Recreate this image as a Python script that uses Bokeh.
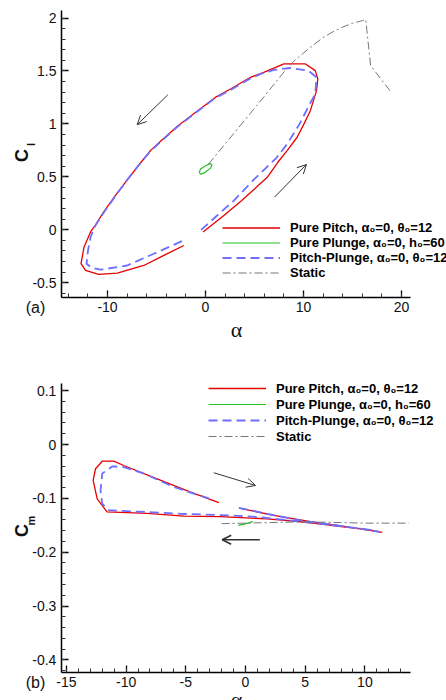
import math
from bokeh.plotting import figure
from bokeh.layouts import column
from bokeh.models import (Legend, LegendItem, Label, Arrow, OpenHead,
                          SingleIntervalTicker, Range1d, CustomJSTickFormatter)
from bokeh.embed import file_html
from bokeh.resources import INLINE

# ---------------- data: (a) lift coefficient ----------------
pitch_cl_alpha = [-0.25, 1.87, 3.7, 6.3, 7.4, 8.33, 9.35, 10.05, 10.7, 11.33, 11.46, 11.2, 10.2, 8.0,
                  5.95, 4.59, 2.55, 1.0, -1.0, -2.9, -4.3, -5.6, -6.9, -8.0, -9.3, -10.4, -11.2,
                  -11.73, -12.4, -12.7, -12.24, -10.9, -9.0, -6.3, -4.25, -2.21]
pitch_cl = [-0.02, 0.135, 0.276, 0.496, 0.64, 0.748, 0.874, 1.0, 1.125, 1.314, 1.424, 1.503, 1.566, 1.566,
            1.487, 1.44, 1.33, 1.25, 1.11, 0.975, 0.86, 0.75, 0.6, 0.47, 0.31, 0.166, 0.05,
            -0.02, -0.164, -0.32, -0.384, -0.42, -0.41, -0.337, -0.242, -0.148]

plunge_cl_alpha = [-0.65, -0.5, 0.0, 0.5, 0.65, 0.55, 0.0, -0.45, -0.65]
plunge_cl = [0.54, 0.575, 0.605, 0.625, 0.615, 0.585, 0.545, 0.525, 0.54]

pp_cl_alpha = [-0.45, 1.19, 2.89, 5.0, 7.2, 8.33, 9.6, 10.6, 11.2, 11.33, 10.5, 8.67, 7.0, 5.78,
               4.59, 2.55, 1.0, -1.0, -2.9, -4.3, -5.6, -6.9, -8.0, -9.3, -10.4, -11.3, -11.73,
               -12.0, -12.14, -11.6, -10.7, -8.0, -5.27, -2.4]
pp_cl = [0.0, 0.135, 0.276, 0.48, 0.675, 0.81, 1.0, 1.18, 1.283, 1.44, 1.503, 1.528, 1.51, 1.478,
         1.43, 1.32, 1.245, 1.105, 0.97, 0.855, 0.745, 0.6, 0.47, 0.305, 0.16, 0.03, -0.07,
         -0.2, -0.32, -0.36, -0.377, -0.337, -0.226, -0.107]

static_cl_alpha = [0.3, 2, 4, 6, 8, 9, 10, 11, 12, 13, 14, 15, 16, 16.35, 16.85, 18.9]
static_cl = [0.62, 0.81, 1.035, 1.26, 1.49, 1.59, 1.67, 1.745, 1.815, 1.87, 1.915, 1.95, 1.975,
             1.985, 1.55, 1.305]

arrows_a = [(-3.85, 1.274, -6.97, 0.993), (7.04, 0.308, 10.3, 0.617)]

# ---------------- data: (b) moment coefficient ----------------
pitch_cm_alpha = [-0.35, 2.37, 5.44, 8.5, 11.45, 10.2, 8.0, 6.0, 4.0, 1.8, -2.1, -5.16, -8.23, -11.6,
                  -12.42, -12.76, -12.56, -12.0, -11.03, -10.2, -7.4, -4.6, -2.23]
pitch_cm = [-0.119, -0.1317, -0.143, -0.153, -0.163, -0.158, -0.1525, -0.147, -0.142, -0.138, -0.134,
            -0.133, -0.128, -0.125, -0.1008, -0.0668, -0.045, -0.031, -0.031, -0.039, -0.0637,
            -0.0885, -0.108]

plunge_cm_alpha = [-0.6, -0.2, 0.4, 0.6, 0.2, -0.3, -0.6]
plunge_cm = [-0.150, -0.148, -0.1445, -0.1435, -0.146, -0.149, -0.150]

pp_cm_alpha = [-0.56, 1.82, 4.33, 8.23, 10.75, 11.2, 9.6, 7.0, 4.5, 1.26, -1.26, -5.44, -8.23, -11.45,
               -12.0, -12.14, -12.0, -11.17, -10.2, -8.5, -6.0, -3.07]
pp_cm = [-0.1175, -0.1287, -0.14, -0.152, -0.1596, -0.162, -0.156, -0.149, -0.143, -0.135, -0.1317,
         -0.1287, -0.1255, -0.122, -0.11, -0.085, -0.054, -0.0408, -0.042, -0.054, -0.079, -0.1]

static_cm_alpha = [-2, 0, 2, 4, 6, 8, 10, 12, 13.7]
static_cm = [-0.147, -0.146, -0.145, -0.144, -0.144, -0.145, -0.146, -0.146, -0.146]

arrows_b = [(-2.65, -0.0525, 0.84, -0.0761), (1.2, -0.1768, -1.95, -0.1768)]

legend_labels = ["Pure Pitch, \u03b1\u2080=0, \u03b8\u2080=12",
                 "Pure Plunge, \u03b1\u2080=0, h\u2080=60",
                 "Pitch-Plunge, \u03b1\u2080=0, \u03b8\u2080=12",
                 "Static"]

# axis extents (data)
a_xbounds = (-14.69, 20.92)
a_ybounds = (-0.639, 2.071)
b_xbounds = (-15.42, 13.81)
b_ybounds = (-0.4228, 0.1127)

RED = "#e60000"
GREEN = "#22c022"
BLUE = "#6e6eff"
GRAY = "#777777"
FONT = "Liberation Sans"
W = 446
H1, H2 = 340, 360

fmt = CustomJSTickFormatter(code="return String(Math.round(tick*1000)/1000);")


def style(p, xint, yint, xb, yb):
    p.xaxis.ticker = SingleIntervalTicker(interval=xint, num_minor_ticks=5)
    p.yaxis.ticker = SingleIntervalTicker(interval=yint, num_minor_ticks=5)
    p.xaxis.bounds = xb
    p.yaxis.bounds = yb
    p.xaxis.fixed_location = yb[0]
    p.yaxis.fixed_location = xb[0]
    for ax in p.axis:
        ax.formatter = fmt
        ax.axis_line_color = "black"
        ax.axis_line_width = 1.5
        ax.major_tick_in = 7
        ax.major_tick_out = 0
        ax.minor_tick_in = 4
        ax.minor_tick_out = 0
        ax.major_tick_line_color = "black"
        ax.minor_tick_line_color = "#333333"
        ax.major_tick_line_width = 1.3
        ax.minor_tick_line_width = 1
        ax.major_label_text_font = FONT
        ax.major_label_text_font_size = "14px"
        ax.major_label_text_color = "#111111"
        ax.major_label_standoff = 5
    p.grid.visible = False
    p.outline_line_color = None


def add_curves(p, data, loc, row_h):
    (pa, pv), (ga, gv), (ba, bv), (sa, sv) = data
    r1 = p.line(pa, pv, line_color=RED, line_width=1.3)
    r2 = p.line(ga, gv, line_color=GREEN, line_width=1.2)
    r3 = p.line(ba, bv, line_color=BLUE, line_width=1.8, line_dash="9 5")
    r4 = p.line(sa, sv, line_color=GRAY, line_width=1.0, line_dash="8 3 2 3")
    items = [LegendItem(label=l, renderers=[r]) for l, r in zip(legend_labels, [r1, r2, r3, r4])]
    leg = Legend(items=items, location=loc, border_line_color=None, background_fill_alpha=0,
                 padding=0, margin=0, spacing=0, glyph_width=58, glyph_height=row_h,
                 label_height=row_h, label_standoff=10, label_text_font=FONT,
                 label_text_font_style="bold", label_text_font_size="13px",
                 label_text_color="black")
    p.add_layout(leg)


def add_arrows(p, arrows, widths):
    for (x0, y0, x1, y1), w in zip(arrows, widths):
        p.add_layout(Arrow(end=OpenHead(size=9, line_width=w, line_color="#333333"),
                           x_start=x0, y_start=y0, x_end=x1, y_end=y1,
                           line_color="#333333", line_width=w))


def add_labels(p, tag, tag_y, alpha_y, c_y, sub, sub_y):
    p.add_layout(Label(x=35, y=tag_y, x_units="screen", y_units="screen", text=tag,
                       text_align="center", text_baseline="middle", text_font=FONT,
                       text_font_size="16px", text_color="#111111"))
    p.add_layout(Label(x=236, y=alpha_y, x_units="screen", y_units="screen", text="\u03b1",
                       text_align="center", text_baseline="alphabetic",
                       text_font="Liberation Serif", text_font_size="22px", text_color="#111111"))
    p.add_layout(Label(x=21.5, y=c_y, x_units="screen", y_units="screen", text="C",
                       angle=math.pi / 2, text_align="center", text_baseline="middle",
                       text_font=FONT, text_font_style="bold", text_font_size="18px",
                       text_color="#111111"))
    p.add_layout(Label(x=30.5, y=sub_y, x_units="screen", y_units="screen", text=sub,
                       angle=math.pi / 2, text_align="center", text_baseline="middle",
                       text_font=FONT, text_font_style="bold", text_font_size="11px",
                       text_color="#111111"))


# figure (a): frame spans the whole canvas, axes fixed at the plot's edges
ax0, axs = 205.0, 9.8      # pixel of alpha=0, px per unit
ay0, ays = 229.3, 105.9    # pixel of Cl=0, px per unit
p1 = figure(width=W, height=H1, output_backend="svg", toolbar_location=None, title=None,
            x_range=Range1d(-ax0 / axs, (W - ax0) / axs),
            y_range=Range1d(ay0 / ays - H1 / ays, ay0 / ays),
            min_border_left=0, min_border_right=0, min_border_top=0, min_border_bottom=0)
style(p1, 10, 0.5, a_xbounds, a_ybounds)
add_curves(p1, [(pitch_cl_alpha, pitch_cl), (plunge_cl_alpha, plunge_cl),
                (pp_cl_alpha, pp_cl), (static_cl_alpha, static_cl)], (222, 60), 15)
add_arrows(p1, arrows_a, [1, 1])
add_labels(p1, "(a)", 33, 11, 185, "l", 196)

bx0, bxs = 245.0, 11.94
by0, bys = 104.0, 538.6
p2 = figure(width=W, height=H2, output_backend="svg", toolbar_location=None, title=None,
            x_range=Range1d(-bx0 / bxs, (W - bx0) / bxs),
            y_range=Range1d(by0 / bys - H2 / bys, by0 / bys),
            min_border_left=0, min_border_right=0, min_border_top=0, min_border_bottom=0)
style(p2, 5, 0.1, b_xbounds, b_ybounds)
add_curves(p2, [(pitch_cm_alpha, pitch_cm), (plunge_cm_alpha, plunge_cm),
                (pp_cm_alpha, pp_cm), (static_cm_alpha, static_cm)], (208, 256), 16)
add_arrows(p2, arrows_b, [1, 1.6])
add_labels(p2, "(b)", 18, 1, 170, "m", 180)

layout = column(p1, p2, spacing=0)
open("out.html", "w").write(file_html(layout, INLINE))
